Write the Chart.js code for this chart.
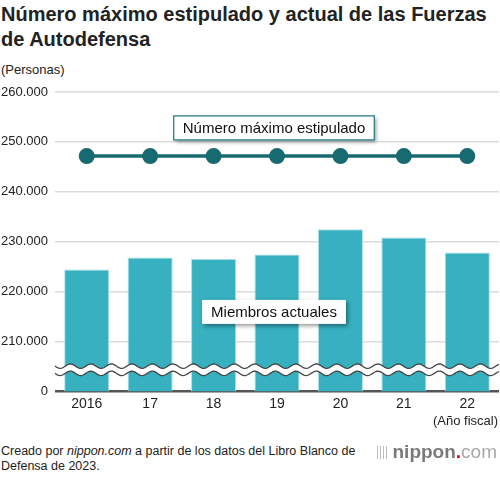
<!DOCTYPE html>
<html lang="es">
<head>
<meta charset="UTF-8">
<title>Fuerzas de Autodefensa</title>
<script src="https://cdn.jsdelivr.net/npm/chart.js"></script>
<style>
  body { margin: 0; background: #fff; font-family: "Liberation Sans", Arial, sans-serif; color: #222; }
  .page { position: relative; width: 500px; height: 477px; overflow: hidden; }
  h1 { position: absolute; left: 1px; top: 2px; margin: 0; font-size: 20px; line-height: 25px; font-weight: bold; color: #222; width: 498px; }
  .unit { position: absolute; left: 1px; top: 62px; font-size: 13px; }
  .fy { position: absolute; right: 2px; top: 413px; font-size: 13px; }
  .chart-box { position: absolute; left: 0; top: 76px; width: 500px; height: 342px; }
  .source { position: absolute; left: 1px; top: 444px; font-size: 12.5px; line-height: 15px; }
  .logo { position: absolute; right: 3px; top: 441px; font-size: 19px; color: #7a7a7a; }
  .logo b { color: #7a7a7a; font-weight: bold; }
  .logo .dot { color: #e60012; font-weight: bold; }
  .logo .com { color: #a8a8a8; }
  .logo .bars { display: inline-block; width: 12px; height: 13px; margin-right: 4px;
    background: repeating-linear-gradient(90deg, #bbb 0 1.5px, transparent 1.5px 3px); vertical-align: -1px; }
</style>
</head>
<body>
<div class="page">
  <h1>Número máximo estipulado y actual de las Fuerzas de Autodefensa</h1>
  <div class="unit">(Personas)</div>
  <div class="chart-box"><canvas id="chart"></canvas></div>
  <div class="fy">(Año fiscal)</div>
  <div class="source">Creado por <i>nippon.com</i> a partir de los datos del Libro Blanco de<br>Defensa de 2023.</div>
  <div class="logo"><span class="bars"></span><b>nippon</b><span class="dot">.</span><span class="com">com</span></div>
</div>

<script>
// fiscal years
const years = ["2016", "17", "18", "19", "20", "21", "22"];
// actual members (personas)
const actualMembers = [224400, 226800, 226500, 227400, 232500, 230800, 227800];
// authorized maximum
const maxStipulated = [247150, 247150, 247150, 247150, 247150, 247150, 247150];
// axis ticks (200000 is shown as 0, axis is broken)
const tickValues = [200000, 210000, 220000, 230000, 240000, 250000, 260000];
const tickLabels = ["0", "210.000", "220.000", "230.000", "240.000", "250.000", "260.000"];
const breakValue = 204300;

const lineColor = "#166a70";
const barColor = "#37b0bf";

// wavy break drawn across the bars
const axisBreak = {
  id: "axisBreak",
  afterDatasetsDraw(chart) {
    const { ctx, chartArea, scales } = chart;
    const y0 = scales.y.getPixelForValue(breakValue);
    const amp = 2.2, period = 20.5, gap = 3.6;
    const wave = x => y0 + amp * Math.sin((x - chartArea.left) / period * Math.PI * 2);
    ctx.save();
    ctx.beginPath();
    for (let x = chartArea.left; x <= chartArea.right; x++) {
      if (x === chartArea.left) ctx.moveTo(x, wave(x) - gap); else ctx.lineTo(x, wave(x) - gap);
    }
    for (let x = chartArea.right; x >= chartArea.left; x--) ctx.lineTo(x, wave(x) + gap);
    ctx.closePath();
    ctx.fillStyle = "#fff";
    ctx.fill();
    ctx.strokeStyle = "#444";
    ctx.lineWidth = 1.3;
    [-gap, gap].forEach(off => {
      ctx.beginPath();
      for (let x = chartArea.left; x <= chartArea.right; x++) {
        if (x === chartArea.left) ctx.moveTo(x, wave(x) + off); else ctx.lineTo(x, wave(x) + off);
      }
      ctx.stroke();
    });
    ctx.restore();
  }
};

// series labels in boxes
const boxLabels = {
  id: "boxLabels",
  afterDraw(chart) {
    const { ctx, scales } = chart;
    const items = [
      { text: "Número máximo estipulado", value: 252800, border: "#2a7f86" },
      { text: "Miembros actuales", value: 215900, border: null }
    ];
    ctx.save();
    ctx.font = "15px 'Liberation Sans', Arial, sans-serif";
    items.forEach(it => {
      const cx = scales.x.getPixelForValue(3) - 3;
      const cy = scales.y.getPixelForValue(it.value);
      const w = ctx.measureText(it.text).width + 18;
      const h = 24;
      ctx.save();
      ctx.shadowColor = "rgba(0,0,0,0.4)";
      ctx.shadowBlur = 4;
      ctx.shadowOffsetX = 2;
      ctx.shadowOffsetY = 2;
      ctx.fillStyle = "#fff";
      ctx.fillRect(cx - w / 2, cy - h / 2, w, h);
      ctx.restore();
      if (it.border) {
        ctx.strokeStyle = it.border;
        ctx.lineWidth = 1.3;
        ctx.strokeRect(cx - w / 2, cy - h / 2, w, h);
      }
      ctx.fillStyle = "#111";
      ctx.textAlign = "center";
      ctx.textBaseline = "middle";
      ctx.fillText(it.text, cx, cy + 1);
    });
    ctx.restore();
  }
};

new Chart(document.getElementById("chart"), {
  data: {
    labels: years,
    datasets: [
      {
        type: "line",
        label: "Número máximo estipulado",
        data: maxStipulated,
        borderColor: lineColor,
        backgroundColor: lineColor,
        borderWidth: 3.5,
        pointRadius: 8,
        pointHoverRadius: 8,
        pointBackgroundColor: lineColor,
        pointBorderWidth: 0,
        order: 0
      },
      {
        type: "bar",
        label: "Miembros actuales",
        data: actualMembers,
        backgroundColor: barColor,
        borderColor: "#a8dfe6",
        borderWidth: 1,
        barPercentage: 0.71,
        categoryPercentage: 1,
        order: 1
      }
    ]
  },
  options: {
    responsive: true,
    maintainAspectRatio: false,
    animation: false,
    layout: { autoPadding: false, padding: { top: 16, right: 1, left: 0, bottom: 0 } },
    plugins: { legend: { display: false }, tooltip: { enabled: false } },
    scales: {
      x: {
        offset: true,
        grid: { display: false, drawTicks: false },
        border: { display: false },
        ticks: { color: "#222", font: { size: 14, family: "'Liberation Sans', Arial, sans-serif" }, padding: 5 }
      },
      y: {
        min: 200000,
        max: 260000,
        afterBuildTicks: axis => { axis.ticks = tickValues.map(v => ({ value: v })); },
        afterFit: axis => { axis.width = 55; },
        border: { display: false },
        grid: {
          drawTicks: false,
          color: ctx => ctx.tick && ctx.tick.value === 200000 ? "#555" : "#dcdcdc",
          lineWidth: ctx => ctx.tick && ctx.tick.value === 200000 ? 2.5 : 1.5
        },
        ticks: {
          color: "#222",
          padding: 7,
          font: { size: 13, family: "'Liberation Sans', Arial, sans-serif" },
          callback: (v) => tickLabels[tickValues.indexOf(v)]
        }
      }
    }
  },
  plugins: [axisBreak, boxLabels]
});
</script>
</body>
</html>
